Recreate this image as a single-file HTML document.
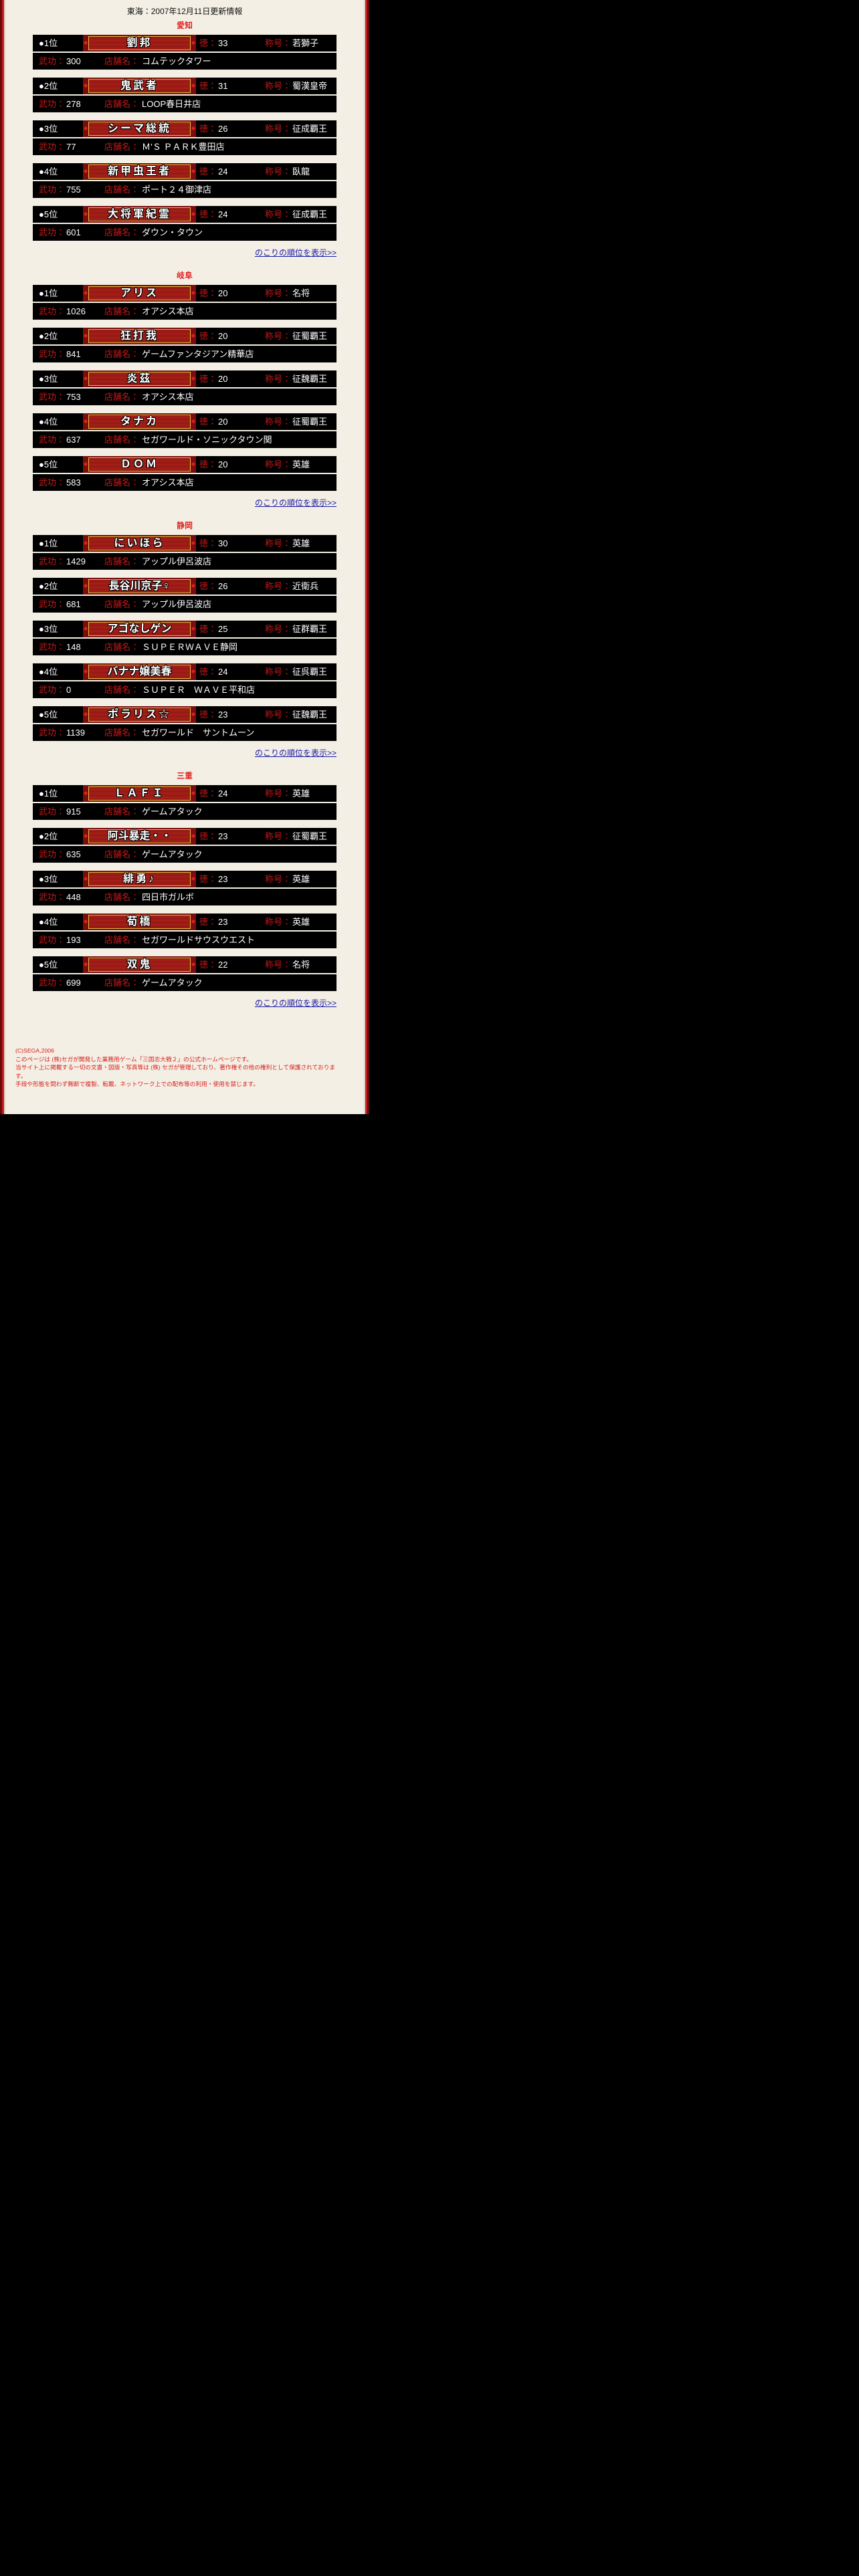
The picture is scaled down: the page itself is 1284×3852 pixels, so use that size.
<!DOCTYPE html>
<html><head><meta charset="utf-8">
<style>
*{margin:0;padding:0}
html,body{width:1284px;height:3852px;background:#000;overflow:hidden}
body{position:relative;font-family:"Liberation Sans","Noto Sans CJK JP",sans-serif}
#panel{position:absolute;left:0;top:0;width:552px;height:1666px;background:#f3efe4;
 box-shadow:inset 3px 0 0 #6a0a0a,inset 6px 0 0 #c02020,inset 8px 0 0 #d9d2c8,inset -3px 0 0 #6a0a0a,inset -6px 0 0 #c02020,inset -8px 0 0 #d9d2c8}
.hd{position:absolute;left:0;width:552px;text-align:center;font-size:12px;color:#111}
.st{position:absolute;left:0;width:552px;text-align:center;font-size:12px;font-weight:bold;color:#e02020;line-height:14px}
.bar{position:absolute;left:49px;width:454px;height:25px;background:#000;color:#fff;font-size:13px;line-height:25px}
.bar span{position:absolute;top:0;white-space:nowrap}
.r{color:#c81818}
.pl{position:absolute;left:75px;top:0;width:169px;height:25px;
 background:radial-gradient(circle at 4px 12px,#e02020 2px,transparent 3px),radial-gradient(circle at 165px 12px,#e02020 2px,transparent 3px),#7a0d0d}
.pl i{position:absolute;left:8px;top:2px;width:151px;height:19px;border:1px solid #e8c040;
 background:repeating-linear-gradient(#7a1010 0 1px,#c0281c 1px 2px);
 font-style:normal;font-weight:bold;font-size:16px;line-height:19px;text-align:center;color:#fff;letter-spacing:3px;
 text-shadow:1px 1px 0 #000,-1px -1px 0 #000,1px -1px 0 #000,-1px 1px 0 #000}
.lk{position:absolute;right:49px;font-size:12px;color:#1a1aa8;text-decoration:underline;line-height:14px}
.ft{position:absolute;left:23px;top:1565px;width:505px;font-size:8.7px;line-height:12.6px;color:#d82020}
</style></head><body>
<div id="panel">
<div class="hd" style="top:8px">東海：2007年12月11日更新情報</div>

<div class="st" style="top:31px">愛知</div>
<div class="bar" style="top:52px"><span style="left:9px">●1位</span><div class="pl"><i>劉邦</i></div><span class="r" style="left:249px">徳：</span><span style="left:277px">33</span><span class="r" style="left:347px">称号：</span><span style="left:388px">若獅子</span></div>
<div class="bar" style="top:79px"><span class="r" style="left:9px">武功：</span><span style="left:50px">300</span><span class="r" style="left:107px">店舗名：</span><span style="left:163px">コムテックタワー</span></div>
<div class="bar" style="top:116px"><span style="left:9px">●2位</span><div class="pl"><i>鬼武者</i></div><span class="r" style="left:249px">徳：</span><span style="left:277px">31</span><span class="r" style="left:347px">称号：</span><span style="left:388px">蜀漢皇帝</span></div>
<div class="bar" style="top:143px"><span class="r" style="left:9px">武功：</span><span style="left:50px">278</span><span class="r" style="left:107px">店舗名：</span><span style="left:163px">LOOP春日井店</span></div>
<div class="bar" style="top:180px"><span style="left:9px">●3位</span><div class="pl"><i>シーマ総統</i></div><span class="r" style="left:249px">徳：</span><span style="left:277px">26</span><span class="r" style="left:347px">称号：</span><span style="left:388px">征成覇王</span></div>
<div class="bar" style="top:207px"><span class="r" style="left:9px">武功：</span><span style="left:50px">77</span><span class="r" style="left:107px">店舗名：</span><span style="left:163px">Ｍ’Ｓ ＰＡＲＫ豊田店</span></div>
<div class="bar" style="top:244px"><span style="left:9px">●4位</span><div class="pl"><i>新甲虫王者</i></div><span class="r" style="left:249px">徳：</span><span style="left:277px">24</span><span class="r" style="left:347px">称号：</span><span style="left:388px">臥龍</span></div>
<div class="bar" style="top:271px"><span class="r" style="left:9px">武功：</span><span style="left:50px">755</span><span class="r" style="left:107px">店舗名：</span><span style="left:163px">ポート２４御津店</span></div>
<div class="bar" style="top:308px"><span style="left:9px">●5位</span><div class="pl"><i>大将軍紀霊</i></div><span class="r" style="left:249px">徳：</span><span style="left:277px">24</span><span class="r" style="left:347px">称号：</span><span style="left:388px">征成覇王</span></div>
<div class="bar" style="top:335px"><span class="r" style="left:9px">武功：</span><span style="left:50px">601</span><span class="r" style="left:107px">店舗名：</span><span style="left:163px">ダウン・タウン</span></div>
<div class="lk" style="top:371px">のこりの順位を表示&gt;&gt;</div>

<div class="st" style="top:405px">岐阜</div>
<div class="bar" style="top:426px"><span style="left:9px">●1位</span><div class="pl"><i>アリス</i></div><span class="r" style="left:249px">徳：</span><span style="left:277px">20</span><span class="r" style="left:347px">称号：</span><span style="left:388px">名将</span></div>
<div class="bar" style="top:453px"><span class="r" style="left:9px">武功：</span><span style="left:50px">1026</span><span class="r" style="left:107px">店舗名：</span><span style="left:163px">オアシス本店</span></div>
<div class="bar" style="top:490px"><span style="left:9px">●2位</span><div class="pl"><i>狂打我</i></div><span class="r" style="left:249px">徳：</span><span style="left:277px">20</span><span class="r" style="left:347px">称号：</span><span style="left:388px">征蜀覇王</span></div>
<div class="bar" style="top:517px"><span class="r" style="left:9px">武功：</span><span style="left:50px">841</span><span class="r" style="left:107px">店舗名：</span><span style="left:163px">ゲームファンタジアン精華店</span></div>
<div class="bar" style="top:554px"><span style="left:9px">●3位</span><div class="pl"><i>炎茲</i></div><span class="r" style="left:249px">徳：</span><span style="left:277px">20</span><span class="r" style="left:347px">称号：</span><span style="left:388px">征魏覇王</span></div>
<div class="bar" style="top:581px"><span class="r" style="left:9px">武功：</span><span style="left:50px">753</span><span class="r" style="left:107px">店舗名：</span><span style="left:163px">オアシス本店</span></div>
<div class="bar" style="top:618px"><span style="left:9px">●4位</span><div class="pl"><i>タナカ</i></div><span class="r" style="left:249px">徳：</span><span style="left:277px">20</span><span class="r" style="left:347px">称号：</span><span style="left:388px">征蜀覇王</span></div>
<div class="bar" style="top:645px"><span class="r" style="left:9px">武功：</span><span style="left:50px">637</span><span class="r" style="left:107px">店舗名：</span><span style="left:163px">セガワールド・ソニックタウン関</span></div>
<div class="bar" style="top:682px"><span style="left:9px">●5位</span><div class="pl"><i>ＤＯＭ</i></div><span class="r" style="left:249px">徳：</span><span style="left:277px">20</span><span class="r" style="left:347px">称号：</span><span style="left:388px">英雄</span></div>
<div class="bar" style="top:709px"><span class="r" style="left:9px">武功：</span><span style="left:50px">583</span><span class="r" style="left:107px">店舗名：</span><span style="left:163px">オアシス本店</span></div>
<div class="lk" style="top:745px">のこりの順位を表示&gt;&gt;</div>

<div class="st" style="top:779px">静岡</div>
<div class="bar" style="top:800px"><span style="left:9px">●1位</span><div class="pl"><i>にいほら</i></div><span class="r" style="left:249px">徳：</span><span style="left:277px">30</span><span class="r" style="left:347px">称号：</span><span style="left:388px">英雄</span></div>
<div class="bar" style="top:827px"><span class="r" style="left:9px">武功：</span><span style="left:50px">1429</span><span class="r" style="left:107px">店舗名：</span><span style="left:163px">アップル伊呂波店</span></div>
<div class="bar" style="top:864px"><span style="left:9px">●2位</span><div class="pl"><i style="letter-spacing:0">長谷川京子♀</i></div><span class="r" style="left:249px">徳：</span><span style="left:277px">26</span><span class="r" style="left:347px">称号：</span><span style="left:388px">近衛兵</span></div>
<div class="bar" style="top:891px"><span class="r" style="left:9px">武功：</span><span style="left:50px">681</span><span class="r" style="left:107px">店舗名：</span><span style="left:163px">アップル伊呂波店</span></div>
<div class="bar" style="top:928px"><span style="left:9px">●3位</span><div class="pl"><i style="letter-spacing:0">アゴなしゲン</i></div><span class="r" style="left:249px">徳：</span><span style="left:277px">25</span><span class="r" style="left:347px">称号：</span><span style="left:388px">征群覇王</span></div>
<div class="bar" style="top:955px"><span class="r" style="left:9px">武功：</span><span style="left:50px">148</span><span class="r" style="left:107px">店舗名：</span><span style="left:163px">ＳＵＰＥＲＷＡＶＥ静岡</span></div>
<div class="bar" style="top:992px"><span style="left:9px">●4位</span><div class="pl"><i style="letter-spacing:0">バナナ嬢美春</i></div><span class="r" style="left:249px">徳：</span><span style="left:277px">24</span><span class="r" style="left:347px">称号：</span><span style="left:388px">征呉覇王</span></div>
<div class="bar" style="top:1019px"><span class="r" style="left:9px">武功：</span><span style="left:50px">0</span><span class="r" style="left:107px">店舗名：</span><span style="left:163px">ＳＵＰＥＲ　ＷＡＶＥ平和店</span></div>
<div class="bar" style="top:1056px"><span style="left:9px">●5位</span><div class="pl"><i>ポラリス☆</i></div><span class="r" style="left:249px">徳：</span><span style="left:277px">23</span><span class="r" style="left:347px">称号：</span><span style="left:388px">征魏覇王</span></div>
<div class="bar" style="top:1083px"><span class="r" style="left:9px">武功：</span><span style="left:50px">1139</span><span class="r" style="left:107px">店舗名：</span><span style="left:163px">セガワールド　サントムーン</span></div>
<div class="lk" style="top:1119px">のこりの順位を表示&gt;&gt;</div>

<div class="st" style="top:1153px">三重</div>
<div class="bar" style="top:1174px"><span style="left:9px">●1位</span><div class="pl"><i>ＬＡＦＩ</i></div><span class="r" style="left:249px">徳：</span><span style="left:277px">24</span><span class="r" style="left:347px">称号：</span><span style="left:388px">英雄</span></div>
<div class="bar" style="top:1201px"><span class="r" style="left:9px">武功：</span><span style="left:50px">915</span><span class="r" style="left:107px">店舗名：</span><span style="left:163px">ゲームアタック</span></div>
<div class="bar" style="top:1238px"><span style="left:9px">●2位</span><div class="pl"><i style="letter-spacing:0">阿斗暴走・・</i></div><span class="r" style="left:249px">徳：</span><span style="left:277px">23</span><span class="r" style="left:347px">称号：</span><span style="left:388px">征蜀覇王</span></div>
<div class="bar" style="top:1265px"><span class="r" style="left:9px">武功：</span><span style="left:50px">635</span><span class="r" style="left:107px">店舗名：</span><span style="left:163px">ゲームアタック</span></div>
<div class="bar" style="top:1302px"><span style="left:9px">●3位</span><div class="pl"><i>緋勇♪</i></div><span class="r" style="left:249px">徳：</span><span style="left:277px">23</span><span class="r" style="left:347px">称号：</span><span style="left:388px">英雄</span></div>
<div class="bar" style="top:1329px"><span class="r" style="left:9px">武功：</span><span style="left:50px">448</span><span class="r" style="left:107px">店舗名：</span><span style="left:163px">四日市ガルボ</span></div>
<div class="bar" style="top:1366px"><span style="left:9px">●4位</span><div class="pl"><i>荀橋</i></div><span class="r" style="left:249px">徳：</span><span style="left:277px">23</span><span class="r" style="left:347px">称号：</span><span style="left:388px">英雄</span></div>
<div class="bar" style="top:1393px"><span class="r" style="left:9px">武功：</span><span style="left:50px">193</span><span class="r" style="left:107px">店舗名：</span><span style="left:163px">セガワールドサウスウエスト</span></div>
<div class="bar" style="top:1430px"><span style="left:9px">●5位</span><div class="pl"><i>双鬼</i></div><span class="r" style="left:249px">徳：</span><span style="left:277px">22</span><span class="r" style="left:347px">称号：</span><span style="left:388px">名将</span></div>
<div class="bar" style="top:1457px"><span class="r" style="left:9px">武功：</span><span style="left:50px">699</span><span class="r" style="left:107px">店舗名：</span><span style="left:163px">ゲームアタック</span></div>
<div class="lk" style="top:1493px">のこりの順位を表示&gt;&gt;</div>

<div class="ft">(C)SEGA,2006<br>このページは (株)セガが開発した業務用ゲーム「三国志大戦２」の公式ホームページです。<br>当サイト上に掲載する一切の文書・図版・写真等は (株) セガが管理しており、著作権その他の権利として保護されておりま<br>す。<br>手段や形態を問わず無断で複製、転載、ネットワーク上での配布等の利用・使用を禁じます。</div>
</div>
</body></html>
